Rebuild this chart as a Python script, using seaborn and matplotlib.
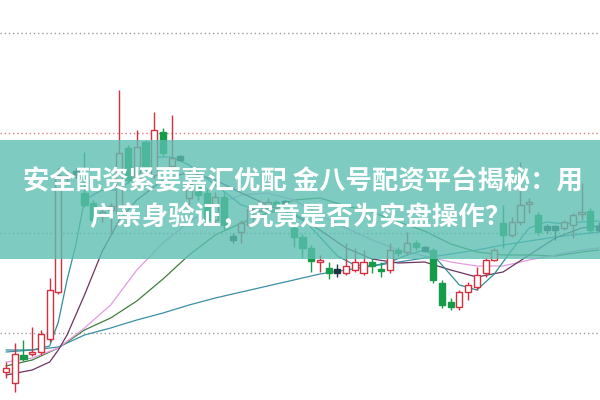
import numpy as np
import pandas as pd
import seaborn as sns
import matplotlib.pyplot as plt
from matplotlib.patches import Rectangle

# K线数据 (开/收/高/低)
opens = [3.05, 2.50, 3.90, 3.95, 4.05, 4.70, 7.05, 12.75, 13.00, 12.00,
         11.50, 10.85, 11.15, 11.00, 14.25, 12.40, 14.55, 12.90, 15.05, 13.35,
         13.75, 11.75, 12.40, 12.00, 10.65, 11.80, 9.75, 10.05, 10.40, 11.15,
         11.25, 11.55, 11.50, 10.25, 9.80, 9.25, 8.55, 8.25, 8.10, 8.00,
         8.15, 8.00, 8.55, 8.20, 8.15, 9.15, 9.05, 9.50, 9.20, 9.15,
         7.50, 6.55, 6.30, 7.05, 7.30, 8.00, 8.65, 10.50, 9.90, 10.55,
         11.45, 10.90, 10.25, 10.25, 10.25, 10.40, 10.95, 11.10, 10.25]
closes = [3.25, 3.95, 3.70, 4.05, 4.95, 7.15, 12.90, 12.85, 13.00, 11.40,
          10.65, 11.05, 11.35, 14.00, 12.65, 14.30, 13.25, 15.15, 14.00, 13.75,
          13.75, 12.45, 11.90, 10.65, 11.80, 10.40, 9.75, 10.50, 11.20, 11.40,
          11.55, 11.40, 11.50, 9.80, 9.25, 8.60, 8.65, 8.00, 8.10, 8.35,
          8.55, 8.55, 8.35, 8.10, 9.15, 9.00, 9.50, 9.30, 9.20, 7.65,
          6.40, 6.30, 7.05, 7.40, 7.90, 8.65, 9.15, 9.90, 10.55, 11.40,
          11.55, 10.05, 10.25, 10.25, 10.55, 10.90, 11.05, 10.15, 10.25]
highs = [3.55, 4.50, 4.65, 5.30, 5.15, 7.75, 13.25, 13.15, 13.25, 14.05,
         11.65, 11.45, 11.50, 17.15, 14.40, 15.15, 14.65, 16.05, 15.25, 15.90,
         13.90, 12.75, 12.55, 12.25, 12.05, 12.00, 10.00, 10.65, 11.40, 11.65,
         11.75, 11.65, 11.65, 10.40, 9.95, 9.40, 8.90, 8.55, 8.45, 9.50,
         9.25, 9.15, 8.75, 8.55, 9.50, 9.30, 10.05, 9.65, 9.35, 9.25,
         7.65, 6.75, 7.15, 7.55, 8.30, 8.75, 9.25, 11.40, 10.80, 13.55,
         11.75, 11.05, 10.45, 10.40, 10.65, 11.00, 12.50, 11.25, 10.55]
lows = [2.75, 2.05, 3.60, 3.85, 3.90, 4.55, 6.95, 12.40, 12.75, 11.30,
        10.45, 10.55, 10.00, 10.90, 12.50, 12.25, 13.05, 12.75, 13.85, 13.15,
        13.60, 11.40, 11.65, 10.40, 10.50, 10.15, 9.50, 9.50, 10.25, 11.00,
        11.15, 11.05, 11.35, 9.30, 8.75, 8.05, 8.05, 7.70, 7.80, 7.90,
        8.05, 7.90, 8.00, 7.80, 8.00, 8.85, 8.90, 9.15, 9.05, 7.50,
        6.25, 6.15, 6.15, 6.65, 7.15, 7.80, 8.60, 9.25, 9.80, 10.40,
        11.00, 9.90, 10.00, 9.65, 10.15, 9.75, 10.65, 10.00, 10.05]

# 均线
ma5_idx = [0, 3, 5, 6, 7, 8, 9, 11, 13, 15, 17, 19, 21, 24, 27, 30, 32, 34, 36, 38,
           40, 42, 44, 46, 48, 49, 50, 52, 54, 56, 58, 60, 62, 64, 66, 68]
ma5 = [4.15, 4.15, 4.35, 5.55, 7.65, 9.40, 11.65, 12.15, 12.15, 12.90, 13.80, 13.80,
       13.40, 12.40, 11.40, 11.00, 11.15, 10.75, 9.80, 8.85, 8.40, 8.35, 8.55, 8.90,
       9.15, 8.90, 8.40, 7.40, 7.15, 7.95, 9.15, 10.25, 10.55, 10.45, 10.55, 10.60]
ma10_idx = [0, 3, 5, 6, 7, 9, 11, 13, 15, 18, 21, 24, 27, 30, 33, 36, 39, 42, 45,
            48, 51, 54, 57, 60, 63, 66, 68]
ma10 = [2.90, 3.15, 3.55, 4.15, 4.90, 6.90, 9.05, 10.65, 11.65, 12.65, 13.05, 12.65,
        12.00, 11.40, 10.90, 10.15, 9.25, 8.70, 8.50, 8.55, 8.15, 7.80, 8.05, 8.90,
        9.75, 10.25, 10.35]
slow_idx = [0, 3, 6, 9, 12, 15, 18, 21, 24, 27, 30, 33, 36, 39, 42, 45, 48, 51, 54,
            57, 60, 63, 66, 68]
ma20 = [3.55, 3.75, 4.25, 5.25, 6.40, 8.15, 9.50, 10.55, 11.40, 11.90, 12.00, 11.65,
        10.90, 10.25, 9.65, 9.15, 8.85, 8.55, 8.35, 8.35, 8.65, 8.90, 9.15, 9.25]
ma30 = [3.35, 3.65, 4.25, 5.15, 5.75, 6.60, 7.70, 8.90, 9.90, 10.50, 11.00, 11.65,
        11.75, 11.35, 11.05, 10.55, 10.10, 9.45, 9.05, 8.90, 8.90, 8.85, 9.05, 9.15]
ma60 = [4.05, 4.15, 4.30, 4.90, 5.25, 5.65, 6.00, 6.40, 6.75, 7.05, 7.35, 7.65,
        7.95, 8.15, 8.35, 8.55, 8.75, 8.95, 9.15, 9.40, 9.60, 9.80, 9.95, 10.05]

title1 = "安全配资紧要嘉汇优配 金八号配资平台揭秘：用"
title2 = "户亲身验证，究竟是否为实盘操作？"

sns.set_theme(style="white")
plt.rcParams['font.family'] = ['Noto Sans CJK SC', 'DejaVu Sans']

fig = plt.figure(figsize=(6, 4), dpi=100)
ax = fig.add_axes([0, 0, 1, 1])
ax.set_axis_off()

# 网格虚线
for lvl in [5, 10, 20]:
    ax.axhline(lvl, color="#9a9a9a", lw=1, ls=(0, (1, 2)), zorder=1)
ax.axhline(15, color="#e07a7a", lw=1, ls=(0, (1, 2)), zorder=1)

# 均线
lines = [(ma60, slow_idx, "#3a8fa6"), (ma30, slow_idx, "#3f7f3a"),
         (ma20, slow_idx, "#e59be0"), (ma10, ma10_idx, "#6b3561"),
         (ma5, ma5_idx, "#2f8f94")]
for vals, idx, col in lines:
    sns.lineplot(x=idx, y=vals, ax=ax, color=col, lw=0.9, zorder=2)

# K线
df = pd.DataFrame({"o": opens, "c": closes, "h": highs, "l": lows})
df["x"] = np.arange(len(df))
up = df[df.c > df.o]
dn = df[df.c < df.o]
fl = df[df.c == df.o]
red, green, dark = "#d5303e", "#169b48", "#1c3540"
ax.vlines(up.x, up.l, up.h, color=red, lw=1, zorder=3)
ax.vlines(dn.x, dn.l, dn.h, color=green, lw=1, zorder=3)
ax.vlines(fl.x, fl.l, fl.h, color=dark, lw=1, zorder=3)
ax.bar(up.x, up.c - up.o, bottom=up.o, width=0.7, facecolor="white",
       edgecolor=red, lw=1, zorder=4)
ax.bar(dn.x, dn.o - dn.c, bottom=dn.c, width=0.7, color=green,
       edgecolor=green, lw=1, zorder=4)
ax.bar(fl.x, 0.22, bottom=fl.o - 0.11, width=0.7, color=dark,
       edgecolor=dark, lw=1, zorder=4)

ax.set_xlim(-0.69, 68.12)
ax.set_ylim(1.65, 21.65)

# 标题横幅
ax.add_patch(Rectangle((0, 0.3525), 1, 0.2975, transform=ax.transAxes,
                       facecolor="#5cbfb2", alpha=0.8, lw=0, zorder=5))
ax.text(0.505, 0.545, title1, transform=ax.transAxes, ha="center", va="center",
        color="white", fontsize=19, fontweight="black", zorder=6)
ax.text(0.5, 0.4575, title2, transform=ax.transAxes, ha="center", va="center",
        color="white", fontsize=19, fontweight="black", zorder=6)

fig.savefig("out.png", dpi=100)
